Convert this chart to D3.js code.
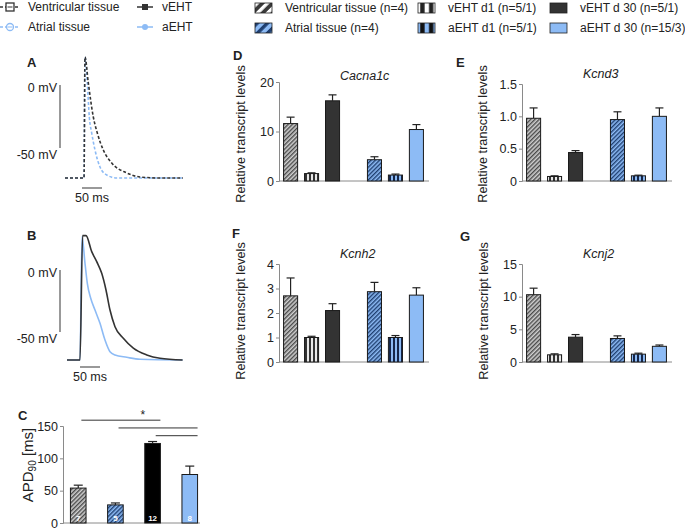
<!DOCTYPE html>
<html lang='en'>
	<head>
		<meta charset='utf-8'>
		<title>EHT panels</title>
		<script src="https://d3js.org/d3.v7.min.js"></script>
		<style type="text/css">
			body { margin: 0; background: #fff; }
			svg text { font-family: "Liberation Sans", Arial, sans-serif; fill: #222; }
		</style>
	</head>
	<body>
		<script type='text/javascript'>
			//Data
			var groups = ["vt", "vd1", "vd30", "at", "ad1", "ad30"];
			var legendLabels = ["Ventricular tissue (n=4)", "vEHT d1 (n=5/1)", "vEHT d 30 (n=5/1)",
								"Atrial tissue (n=4)", "aEHT d1 (n=5/1)", "aEHT d 30 (n=15/3)"];
			var cacna1cMean = [11.6, 1.5, 16.2, 4.3, 1.2, 10.4];
			var cacna1cErr  = [1.3, 0.15, 1.2, 0.6, 0.2, 1.0];
			var kcnd3Mean   = [0.97, 0.07, 0.44, 0.95, 0.08, 1.0];
			var kcnd3Err    = [0.16, 0.01, 0.03, 0.12, 0.01, 0.13];
			var kcnh2Mean   = [2.7, 1.0, 2.1, 2.87, 1.0, 2.73];
			var kcnh2Err    = [0.73, 0.05, 0.28, 0.38, 0.08, 0.3];
			var kcnj2Mean   = [10.3, 1.1, 3.8, 3.6, 1.2, 2.4];
			var kcnj2Err    = [1.0, 0.15, 0.4, 0.4, 0.15, 0.2];

			var apdGroups = ["Ventricular tissue", "Atrial tissue", "vEHT", "aEHT"];
			var apdMean = [54, 28, 123, 75];
			var apdErr  = [4.5, 3, 3, 13];
			var apdN    = ["7", "5", "12", "8"];
			var apdSig  = [[0, 2, 159], [1, 3, 147], [2, 3, 135]]; // pairs + bracket level (ms)

			// action potentials [ms, mV]
			var ventTissueAP = [[0,-73.8],[47.5,-73.8],[50,22.2],[58.3,1.6],[70.8,-25.4],[80.8,-38.1],[95.8,-51.6],[116.8,-61.9],[154.3,-69.8],[187.5,-73],[237.5,-73.8],[295,-73.8]];
			var atrialTissueAP = [[0,-73.8],[47.5,-73.8],[50,22.2],[55.8,1.6],[60.8,-25.4],[66.8,-38.1],[75,-51.6],[87.5,-65.1],[104.3,-71.4],[129.3,-73.8],[295,-73.8]];
			var vEHTAP = [[0,-72.6],[32.5,-72.6],[39,27.7],[47.5,27.7],[61.8,14.8],[74.3,6.7],[86.8,-2.7],[97.5,-16.1],[107.5,-32.3],[120,-45.7],[140.8,-55.1],[165.8,-63.1],[199.3,-68.5],[232.5,-71.2],[289,-72.6]];
			var aEHTAP = [[0,-72.6],[32.5,-72.6],[37.5,26.9],[45,5.4],[50.8,-10.7],[59.3,-22.8],[70,-32.3],[82.5,-43],[95,-56.5],[107.5,-65.9],[120,-68.5],[149.3,-70.4],[182.5,-72],[289,-72.6]];

			var dark = "#333333";
			var lightBlue = "#8dbbf5";
			var axisGray = "#8a8a8a";

			var svg = d3.select("body").append("svg")
						.attr("width", 685)
						.attr("height", 530);

			//Patterns
			var defs = svg.append("defs");
			function hatch(id, bg, fg, scale) {
				var p = defs.append("pattern").attr("id", id)
							.attr("patternUnits", "userSpaceOnUse")
							.attr("width", 3).attr("height", 3)
							.attr("patternTransform", "rotate(45) scale(" + scale + ")");
				p.append("rect").attr("width", 3).attr("height", 3).attr("fill", bg);
				p.append("rect").attr("width", 1.4).attr("height", 3).attr("fill", fg);
			}
			function stripes(id, bg, fg, scale) {
				var p = defs.append("pattern").attr("id", id)
							.attr("patternUnits", "userSpaceOnUse")
							.attr("width", 4).attr("height", 4)
							.attr("patternTransform", "scale(" + scale + ")");
				p.append("rect").attr("width", 4).attr("height", 4).attr("fill", bg);
				p.append("rect").attr("x", 1).attr("width", 2).attr("height", 4).attr("fill", fg);
			}
			hatch("vtP", "#cfcfcf", "#4a4a4a", 1);
			hatch("atP", "#8dbbf5", "#1f3f70", 1);
			stripes("vd1P", "#e8e8e8", "#333", 1);
			stripes("ad1P", "#8dbbf5", "#15264a", 1);
			hatch("vtL", "#3a3a3a", "#ffffff", 2.4);
			hatch("atL", "#8dbbf5", "#1f3f70", 2.4);
			stripes("vd1L", "#ffffff", "#222", 2.2);
			stripes("ad1L", "#8dbbf5", "#111", 2.2);

			var fills = ["url(#vtP)", "url(#vd1P)", dark, "url(#atP)", "url(#ad1P)", lightBlue];
			var legendFills = ["url(#vtL)", "url(#vd1L)", dark, "url(#atL)", "url(#ad1L)", lightBlue];

			//Top left legend (traces)
			var lg = svg.append("g");
			lg.append("line").attr("x1", 0).attr("x2", 20).attr("y1", 7).attr("y2", 7)
			  .attr("stroke", dark).attr("stroke-width", 1.5).attr("stroke-dasharray", "3,2");
			lg.append("rect").attr("x", 6).attr("y", 3).attr("width", 8).attr("height", 8)
			  .attr("fill", "#fff").attr("stroke", dark).attr("stroke-width", 1.3);
			lg.append("line").attr("x1", 7.5).attr("x2", 12.5).attr("y1", 7).attr("y2", 7).attr("stroke", dark);
			lg.append("line").attr("x1", 0).attr("x2", 20).attr("y1", 27).attr("y2", 27)
			  .attr("stroke", lightBlue).attr("stroke-width", 1.5).attr("stroke-dasharray", "3,2");
			lg.append("circle").attr("cx", 10).attr("cy", 27).attr("r", 3.5)
			  .attr("fill", "#fff").attr("stroke", lightBlue).attr("stroke-width", 1.3);
			lg.append("line").attr("x1", 7.5).attr("x2", 12.5).attr("y1", 27).attr("y2", 27).attr("stroke", lightBlue);
			lg.append("line").attr("x1", 137).attr("x2", 153).attr("y1", 7).attr("y2", 7)
			  .attr("stroke", dark).attr("stroke-width", 1.5);
			lg.append("rect").attr("x", 142).attr("y", 4).attr("width", 6).attr("height", 6).attr("fill", dark);
			lg.append("line").attr("x1", 137).attr("x2", 153).attr("y1", 27).attr("y2", 27)
			  .attr("stroke", lightBlue).attr("stroke-width", 1.5);
			lg.append("circle").attr("cx", 145).attr("cy", 27).attr("r", 3).attr("fill", lightBlue);
			[["Ventricular tissue", 28, 11], ["Atrial tissue", 28, 31], ["vEHT", 162, 11], ["aEHT", 162, 31]]
				.forEach(function(d) {
					lg.append("text").attr("x", d[1]).attr("y", d[2]).attr("font-size", 12).text(d[0]);
				});

			//Top right legend (bars)
			var legX = [255, 418, 550];
			var rg = svg.selectAll("g.leg").data(legendLabels).enter().append("g").attr("class", "leg")
						.attr("transform", function(d, i) {
							return "translate(" + legX[i % 3] + "," + (i < 3 ? 3 : 23) + ")";
						});
			rg.append("rect").attr("width", 17).attr("height", 10)
			  .attr("fill", function(d, i) { return legendFills[i]; })
			  .attr("stroke", "#222").attr("stroke-width", 0.8);
			rg.append("text").attr("x", 30).attr("y", 9).attr("font-size", 12).text(function(d) { return d; });

			//Panel letters
			[["A", 27, 67], ["B", 27, 240], ["C", 18, 420], ["D", 233, 60], ["E", 456, 67], ["F", 232, 238], ["G", 460, 241]]
				.forEach(function(d) {
					svg.append("text").attr("x", d[1]).attr("y", d[2]).attr("font-size", 13)
					   .attr("font-weight", "bold").text(d[0]);
				});

			//Action potential panels
			function apPanel(o) {
				var x = d3.scaleLinear().domain([0, 300]).range([o.x0, o.x0 + 120]);
				var y = d3.scaleLinear().domain([-50, 0]).range([o.yMinus50, o.yZero]);
				var g = svg.append("g");
				var line = d3.line().x(function(d) { return x(d[0]); }).y(function(d) { return y(d[1]); })
							 .curve(d3.curveMonotoneX);
				o.traces.forEach(function(t) {
					g.append("path").datum(t.data).attr("d", line).attr("fill", "none")
					 .attr("stroke", t.color).attr("stroke-width", 1.6)
					 .attr("stroke-dasharray", o.dashed ? "3,2" : null);
				});
				// scale bars
				g.append("line").attr("x1", 60).attr("x2", 60).attr("y1", y(0)).attr("y2", y(-50))
				 .attr("stroke", "#777").attr("stroke-width", 1.5);
				g.append("line").attr("x1", x(o.barT)).attr("x2", x(o.barT + 50))
				 .attr("y1", o.hBarY).attr("y2", o.hBarY).attr("stroke", "#777").attr("stroke-width", 1.5);
				g.append("text").attr("x", 57).attr("y", y(0) + 7).attr("text-anchor", "end")
				 .attr("font-size", 12.5).text("0 mV");
				g.append("text").attr("x", 57).attr("y", y(-50) + 11).attr("text-anchor", "end")
				 .attr("font-size", 12.5).text("-50 mV");
				g.append("text").attr("x", x(o.barT + 25)).attr("y", o.hBarY + 14).attr("text-anchor", "middle")
				 .attr("font-size", 12.5).text("50 ms");
			}
			apPanel({x0: 65, yZero: 85, yMinus50: 148, dashed: true, barT: 42.5, hBarY: 188,
					 traces: [{data: atrialTissueAP, color: lightBlue}, {data: ventTissueAP, color: dark}]});
			apPanel({x0: 67, yZero: 270, yMinus50: 332, dashed: false, barT: 32.5, hBarY: 367,
					 traces: [{data: aEHTAP, color: lightBlue}, {data: vEHTAP, color: dark}]});

			//Bar panels
			function barPanel(o) {
				var g = svg.append("g");
				var slots = ["vt", "vd1", "vd30", "gap", "at", "ad1", "ad30"];
				var x = d3.scaleBand().domain(slots).range([o.x0 + 1, o.x0 + 148])
						  .paddingInner(0.33).paddingOuter(0.17);
				var y = d3.scaleLinear().domain([0, o.max]).range([o.yBase, o.yTop]);
				var ax = g.append("g").attr("transform", "translate(" + o.x0 + ",0)")
						  .call(d3.axisLeft(y).tickValues(o.ticks).tickSize(3).tickPadding(2)
						  .tickFormat(o.fmt || d3.format("d")));
				ax.select(".domain").attr("stroke", axisGray);
				ax.selectAll(".tick line").attr("stroke", axisGray);
				ax.selectAll(".tick text").attr("font-size", 12.5).attr("font-family", null).attr("fill", "#222");
				g.append("line").attr("x1", o.x0).attr("x2", o.x0 + 150).attr("y1", o.yBase).attr("y2", o.yBase)
				 .attr("stroke", axisGray);
				var bw = x.bandwidth();
				// error bars
				g.selectAll("line.err").data(groups).enter().append("line")
				 .attr("x1", function(d) { return x(d) + bw / 2; }).attr("x2", function(d) { return x(d) + bw / 2; })
				 .attr("y1", function(d, i) { return y(o.mean[i]); })
				 .attr("y2", function(d, i) { return y(o.mean[i] + o.err[i]); })
				 .attr("stroke", "#222").attr("stroke-width", 1.2);
				g.selectAll("line.cap").data(groups).enter().append("line")
				 .attr("x1", function(d) { return x(d) + bw / 2 - 4; }).attr("x2", function(d) { return x(d) + bw / 2 + 4; })
				 .attr("y1", function(d, i) { return y(o.mean[i] + o.err[i]); })
				 .attr("y2", function(d, i) { return y(o.mean[i] + o.err[i]); })
				 .attr("stroke", "#222").attr("stroke-width", 1.2);
				g.selectAll("rect.bar").data(groups).enter().append("rect")
				 .attr("x", function(d) { return x(d); }).attr("width", bw)
				 .attr("y", function(d, i) { return y(o.mean[i]); })
				 .attr("height", function(d, i) { return y(0) - y(o.mean[i]); })
				 .attr("fill", function(d, i) { return fills[i]; })
				 .attr("stroke", "#1a1a1a").attr("stroke-width", 1);
				g.append("text").attr("x", o.x0 + 61).attr("y", o.titleY).attr("font-size", 12.5)
				 .attr("font-style", "italic").text(o.title);
				g.append("text").attr("transform", "translate(" + o.labelX + "," + o.labelY + ") rotate(-90)")
				 .attr("text-anchor", "middle").attr("font-size", 12.7).text("Relative transcript levels");
			}
			var fmt1 = function(d) { return d === 0 ? "0" : d3.format(".1f")(d); };
			barPanel({x0: 279, yBase: 181, yTop: 82, max: 20, ticks: [0, 10, 20], mean: cacna1cMean, err: cacna1cErr,
					  title: "Cacna1c", titleY: 80, labelX: 245, labelY: 134});
			barPanel({x0: 522, yBase: 181, yTop: 84, max: 1.5, ticks: [0, 0.5, 1, 1.5], fmt: fmt1, mean: kcnd3Mean, err: kcnd3Err,
					  title: "Kcnd3", titleY: 78, labelX: 487, labelY: 134});
			barPanel({x0: 279, yBase: 362, yTop: 264, max: 4, ticks: [0, 1, 2, 3, 4], mean: kcnh2Mean, err: kcnh2Err,
					  title: "Kcnh2", titleY: 258, labelX: 245, labelY: 311});
			barPanel({x0: 522, yBase: 362, yTop: 264, max: 15, ticks: [0, 5, 10, 15], mean: kcnj2Mean, err: kcnj2Err,
					  title: "Kcnj2", titleY: 258, labelX: 488, labelY: 311});

			//Panel C: APD90
			var cg = svg.append("g");
			var cx = d3.scaleBand().domain(apdGroups).range([63, 205]).paddingInner(0.58).paddingOuter(0.2);
			var cy = d3.scaleLinear().domain([0, 150]).range([523, 426]);
			var cbw = cx.bandwidth();
			var cFills = ["url(#vtP)", "url(#atP)", "#000", lightBlue];
			var cax = cg.append("g").attr("transform", "translate(63,0)")
						.call(d3.axisLeft(cy).tickValues([0, 50, 100, 150]).tickSize(3).tickPadding(2));
			cax.select(".domain").attr("stroke", axisGray);
			cax.selectAll(".tick line").attr("stroke", axisGray);
			cax.selectAll(".tick text").attr("font-size", 12.5).attr("font-family", null).attr("fill", "#222");
			cg.append("line").attr("x1", 63).attr("x2", 200).attr("y1", 523).attr("y2", 523).attr("stroke", axisGray);
			cg.selectAll("line.err").data(apdGroups).enter().append("line")
			  .attr("x1", function(d) { return cx(d) + cbw / 2; }).attr("x2", function(d) { return cx(d) + cbw / 2; })
			  .attr("y1", function(d, i) { return cy(apdMean[i]); })
			  .attr("y2", function(d, i) { return cy(apdMean[i] + apdErr[i]); })
			  .attr("stroke", "#222").attr("stroke-width", 1.2);
			cg.selectAll("line.cap").data(apdGroups).enter().append("line")
			  .attr("x1", function(d) { return cx(d) + cbw / 2 - 4.5; }).attr("x2", function(d) { return cx(d) + cbw / 2 + 4.5; })
			  .attr("y1", function(d, i) { return cy(apdMean[i] + apdErr[i]); })
			  .attr("y2", function(d, i) { return cy(apdMean[i] + apdErr[i]); })
			  .attr("stroke", "#222").attr("stroke-width", 1.2);
			cg.selectAll("rect.bar").data(apdGroups).enter().append("rect")
			  .attr("x", function(d) { return cx(d); }).attr("width", cbw)
			  .attr("y", function(d, i) { return cy(apdMean[i]); })
			  .attr("height", function(d, i) { return cy(0) - cy(apdMean[i]); })
			  .attr("fill", function(d, i) { return cFills[i]; })
			  .attr("stroke", "#1a1a1a").attr("stroke-width", 1);
			cg.selectAll("text.n").data(apdN).enter().append("text")
			  .attr("x", function(d, i) { return cx(apdGroups[i]) + cbw / 2; }).attr("y", 521)
			  .attr("text-anchor", "middle").attr("font-size", 8).attr("font-weight", "bold")
			  .style("fill", "#fff").text(function(d) { return d; });
			cg.selectAll("line.sig").data(apdSig).enter().append("line")
			  .attr("x1", function(d) { return cx(apdGroups[d[0]]) + cbw * 0.7; })
			  .attr("x2", function(d) { return cx(apdGroups[d[1]]) + cbw; })
			  .attr("y1", function(d) { return cy(d[2]); }).attr("y2", function(d) { return cy(d[2]); })
			  .attr("stroke", "#333").attr("stroke-width", 1);
			cg.append("text").attr("x", cx(apdGroups[2]) - 2).attr("y", cy(apdSig[0][2]) - 1)
			  .attr("text-anchor", "middle").attr("font-size", 12).text("*");
			var yl = cg.append("text").attr("transform", "translate(33,465) rotate(-90)")
					   .attr("text-anchor", "middle").attr("font-size", 15);
			yl.append("tspan").text("APD");
			yl.append("tspan").attr("font-size", 10).attr("dy", 3).text("90");
			yl.append("tspan").attr("dy", -3).text(" [ms]");
		</script>
	</body>
</html>
